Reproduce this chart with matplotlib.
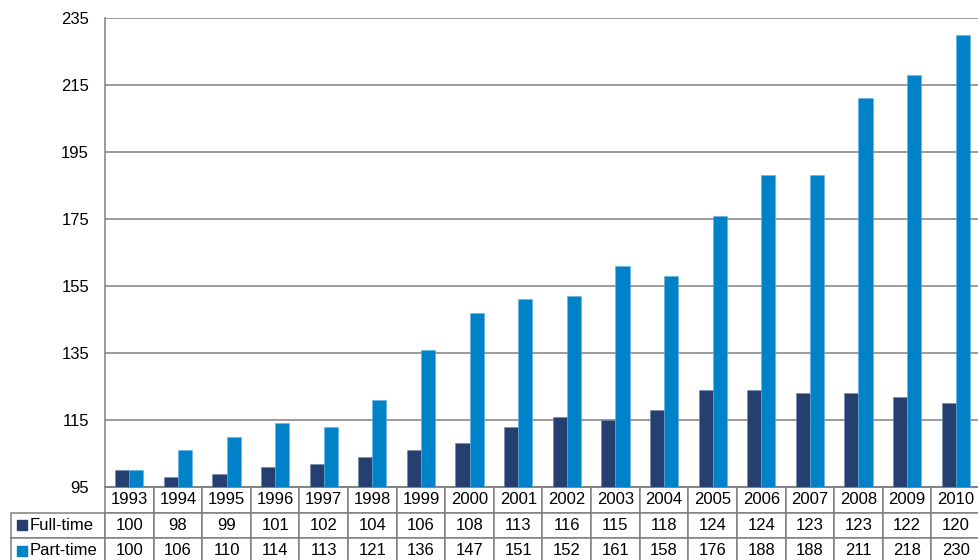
import matplotlib
matplotlib.use("Agg")
import matplotlib.pyplot as plt
import numpy as np
from matplotlib.patches import Rectangle
from matplotlib.table import Table

plt.rcParams["font.family"] = ["Liberation Sans", "DejaVu Sans"]

years = [str(y) for y in range(1993, 2011)]
full_time = [100, 98, 99, 101, 102, 104, 106, 108, 113, 116, 115, 118, 124, 124, 123, 123, 122, 120]
part_time = [100, 106, 110, 114, 113, 121, 136, 147, 151, 152, 161, 158, 176, 188, 188, 211, 218, 230]
series_names = ["Full-time", "Part-time"]

NAVY = "#243f70"
BLUE = "#0082c8"
GREY = "#808080"

W, H = 979, 560
AX_L, AX_R, AX_T, AX_B = 105, 980, 18, 487  # plot area in pixels
ax_w, ax_h = AX_R - AX_L, AX_B - AX_T

fig = plt.figure(figsize=(W / 100, H / 100), dpi=100)
ax = fig.add_axes([AX_L / W, 1 - AX_B / H, ax_w / W, ax_h / H])

x = np.arange(len(years))
bw = 0.29
ax.bar(x - bw / 2, full_time, bw, color=NAVY, edgecolor="#6f86aa", linewidth=0.4, zorder=3)
ax.bar(x + bw / 2, part_time, bw, color=BLUE, edgecolor="#5fb0e0", linewidth=0.4, zorder=3)

ax.set_xlim(-0.5, len(years) - 0.5)
ax.set_ylim(95, 235)
ax.set_yticks(range(95, 236, 20))
ax.set_xticks([])
ax.yaxis.grid(True, color=GREY, linewidth=1.1)
ax.set_axisbelow(True)
ax.tick_params(axis="y", length=0, pad=11.5, labelsize=12, colors="black")
for side in ("top", "right"):
    ax.spines[side].set_visible(False)
for side in ("left", "bottom"):
    ax.spines[side].set_color(GREY)
    ax.spines[side].set_linewidth(1.1)

# data table under the bars; sizes given in axes units so the bbox scale is 1
row_h = 25.5 / ax_h
col_w = 1 / len(years)
label_w = (AX_L - 11) / ax_w
tbl = Table(ax, bbox=[0, -3 * row_h, 1, 3 * row_h])
for j, yr in enumerate(years):
    tbl.add_cell(0, j, col_w, row_h, text=yr, loc="center", edgecolor=GREY)
for i, (name, vals) in enumerate(zip(series_names, [full_time, part_time]), start=1):
    c = tbl.add_cell(i, -1, label_w, row_h, text=name, loc="left", edgecolor=GREY)
    c.PAD = 19 / 94
    for j, v in enumerate(vals):
        tbl.add_cell(i, j, col_w, row_h, text=str(v), loc="center", edgecolor=GREY)
for cell in tbl.get_celld().values():
    cell.set_linewidth(1.1)
tbl.auto_set_font_size(False)
tbl.set_fontsize(12)
ax.add_table(tbl)
tbl.set_clip_on(False)

# legend keys in the row-label cells
for i, col in enumerate([NAVY, BLUE]):
    yc = AX_B + 25.5 * (i + 1.5)
    fig.patches.append(Rectangle((17 / W, 1 - (yc + 5) / H), 10 / W, 10 / H,
                                 transform=fig.transFigure, color=col))

fig.savefig("out.png", dpi=100)
